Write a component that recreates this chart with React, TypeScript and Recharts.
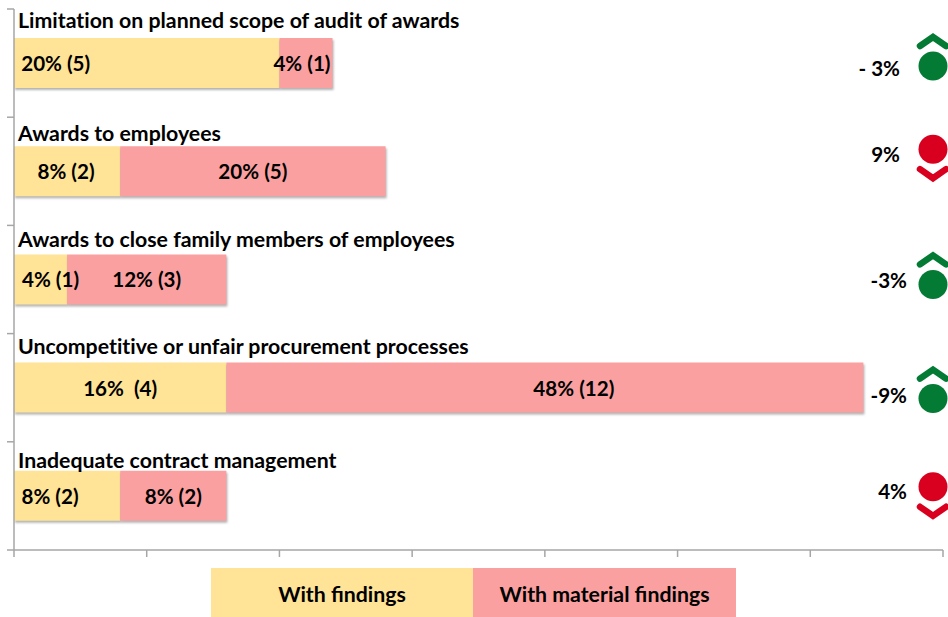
import { Bar, BarChart, LabelList, Legend, XAxis, YAxis } from 'recharts';

const categories = [
  'Limitation on planned scope of audit of awards',
  'Awards to employees',
  'Awards to close family members of employees',
  'Uncompetitive or unfair procurement processes',
  'Inadequate contract management',
];
const withFindings = [20, 8, 4, 16, 8];
const withMaterialFindings = [4, 20, 12, 48, 8];
const findingsLabels = ['20% (5)', '8% (2)', '4% (1)', '16%  (4)', '8% (2)'];
const materialLabels = ['4% (1)', '20% (5)', '12% (3)', '48% (12)', '8% (2)'];
const changeLabels = ['- 3%', '9%', '-3%', '-9%', '4%'];
const changeValues = [-3, 9, -3, -9, 4];
const seriesNames = ['With findings', 'With material findings'];
const xTicks = [0, 10, 20, 30, 40, 50, 60, 70];

// hand placement of the text, the source slide nudged these one by one
const titleNudge = [-42, -37, -39, -41, -35];
const findingsNudge = [-91, -1, 10, 0, -17];
const materialNudge = [-4, 0, 0, 29, 0];
const changeRight = [900, 900, 907, 907, 907];
const changeNudge = [6, -16, 2, 8, -4];
const iconNudge = [3, -22, 5, 11, -9];

const rows = categories.map((name, i) => ({
  name,
  findings: withFindings[i],
  material: withMaterialFindings[i],
}));

const FONT = 'Lato, sans-serif';
const YELLOW = '#ffe396';
const PINK = '#fba0a0';
const AXIS = '#a6a6a6';
const CHART_W = 948;
const CHART_H = 617;
const MARGIN_TOP = 9;
const X_AXIS_H = 18;
const LEGEND_H = 49;
const BAND = (CHART_H - MARGIN_TOP - X_AXIS_H - LEGEND_H) / categories.length;

// the source axis has its ticks between the rows, not on them
function BoundaryTick({ y, index }: any) {
  const top = y - BAND / 2;
  return (
    <g stroke={AXIS} strokeWidth={1.5}>
      <line x1={7} x2={14} y1={top} y2={top} />
      {index === categories.length - 1 && <line x1={7} x2={14} y1={top + BAND} y2={top + BAND} />}
    </g>
  );
}

function TitleLabel({ y, height, index }: any) {
  return (
    <text x={18} y={y + height / 2 + titleNudge[index] + 7} fontFamily={FONT} fontWeight={700} fontSize={21.3} fill="#000" style={{ fontVariantLigatures: 'none' }}>
      {categories[index]}
    </text>
  );
}

function SegmentLabel({ x, y, width, height, index, labels, nudge }: any) {
  return (
    <text
      x={x + width / 2 + nudge[index]}
      y={y + height / 2 + 8}
      textAnchor="middle"
      fontFamily={FONT}
      fontWeight={700}
      fontSize={20.6}
      fill="#000"
      style={{ whiteSpace: 'pre' }}
    >
      {labels[index]}
    </text>
  );
}

function ChangeMark({ y, height, index }: any) {
  const mid = y + height / 2;
  const improved = changeValues[index] < 0;
  const cy = mid + iconNudge[index];
  const color = improved ? '#047b35' : '#d9001f';
  // chevron points away from the circle
  const chevron = improved
    ? `M 920 ${cy - 20} L 933 ${cy - 29} L 946 ${cy - 20}`
    : `M 920 ${cy + 20} L 933 ${cy + 29} L 946 ${cy + 20}`;
  return (
    <g>
      <text
        x={changeRight[index]}
        y={mid + changeNudge[index] + 7}
        textAnchor="end"
        fontFamily={FONT}
        fontWeight={700}
        fontSize={20.6}
        fill="#000"
      >
        {changeLabels[index]}
      </text>
      <circle cx={933} cy={cy} r={14.5} fill={color} />
      <path d={chevron} fill="none" stroke={color} strokeWidth={6.5} strokeLinecap="round" strokeLinejoin="miter" />
    </g>
  );
}

function LegendBoxes() {
  const colors = [YELLOW, PINK];
  return (
    <div style={{ display: 'flex', marginLeft: 211 }}>
      {seriesNames.map((name, i) => (
        <div
          key={name}
          style={{
            width: i === 0 ? 262 : 263,
            height: LEGEND_H,
            lineHeight: '53px',
            background: colors[i],
            textAlign: 'center',
            fontFamily: FONT,
            fontWeight: 700,
            fontSize: 21.3,
            color: '#000',
          }}
        >
          {name}
        </div>
      ))}
    </div>
  );
}

export default function App() {
  return (
    <div style={{ position: 'absolute', left: 0, top: 0, width: CHART_W, height: CHART_H, background: '#fff' }}>
      <BarChart
        width={CHART_W}
        height={CHART_H}
        data={rows}
        layout="vertical"
        margin={{ top: MARGIN_TOP, right: 5, bottom: 0, left: 0 }}
      >
        <defs>
          <filter id="barShadow" x="-5%" y="-10%" width="110%" height="125%" colorInterpolationFilters="sRGB">
            <feDropShadow dx="1" dy="2" stdDeviation="1.2" floodColor="#000" floodOpacity="0.3" />
          </filter>
        </defs>
        <XAxis
          type="number"
          domain={[0, 70]}
          ticks={xTicks}
          height={X_AXIS_H}
          tickSize={7}
          tickFormatter={() => ''}
          stroke={AXIS}
          strokeWidth={1.5}
        />
        <YAxis
          type="category"
          dataKey="name"
          width={14}
          interval={0}
          tickLine={false}
          tick={<BoundaryTick />}
          stroke={AXIS}
          strokeWidth={1.5}
        />
        <Legend verticalAlign="bottom" content={<LegendBoxes />} />
        <Bar
          dataKey="findings"
          name={seriesNames[0]}
          stackId="a"
          fill={YELLOW}
          barSize={50}
          filter="url(#barShadow)"
          isAnimationActive={false}
        >
          <LabelList content={<TitleLabel />} />
          <LabelList content={<SegmentLabel labels={findingsLabels} nudge={findingsNudge} />} />
        </Bar>
        <Bar
          dataKey="material"
          name={seriesNames[1]}
          stackId="a"
          fill={PINK}
          barSize={50}
          filter="url(#barShadow)"
          isAnimationActive={false}
        >
          <LabelList content={<SegmentLabel labels={materialLabels} nudge={materialNudge} />} />
          <LabelList content={<ChangeMark />} />
        </Bar>
      </BarChart>
    </div>
  );
}
